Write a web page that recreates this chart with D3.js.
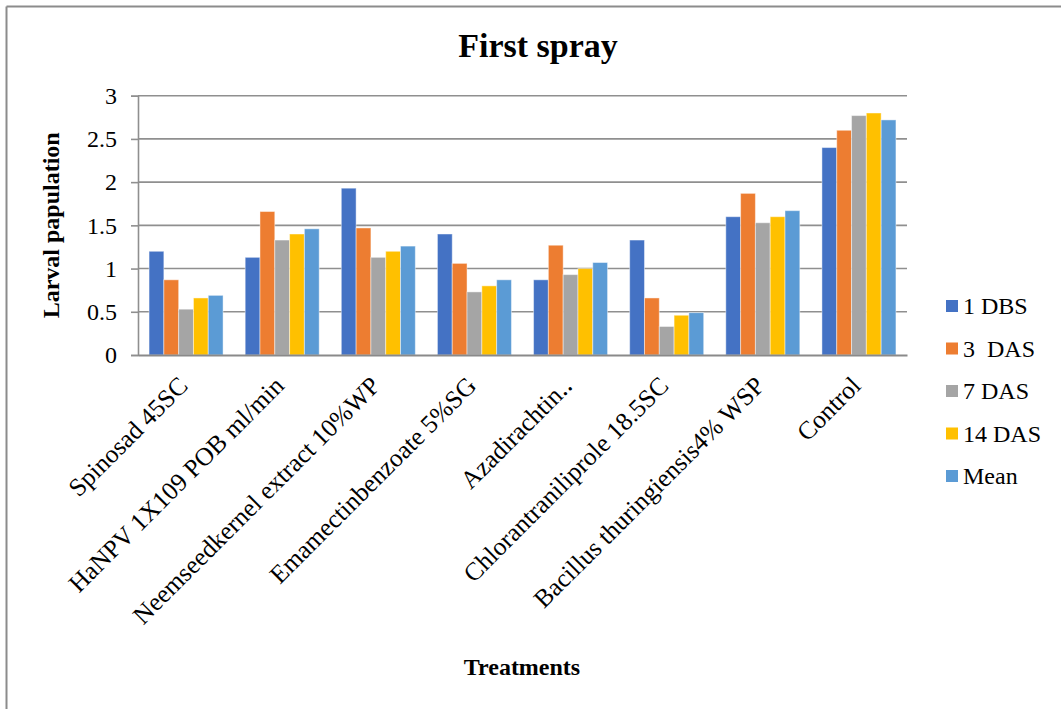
<!DOCTYPE html>
<html>
<head>
<meta charset="utf-8">
<script src="https://cdn.jsdelivr.net/npm/d3@7"></script>
<style>
  html, body { margin: 0; padding: 0; background: #fff; }
  svg { display: block; font-family: "Liberation Serif", "Times New Roman", serif; }
</style>
</head>
<body>
<svg id="chart" width="1061" height="709"></svg>
<script>
const categories = [
  "Spinosad 45SC",
  "HaNPV 1X109 POB ml/min",
  "Neemseedkernel extract 10%WP",
  "Emamectinbenzoate 5%SG",
  "Azadirachtin\u2025",
  "Chlorantraniliprole 18.5SC",
  "Bacillus thuringiensis4% WSP",
  "Control"
];
const seriesNames = ["1 DBS", "3  DAS", "7 DAS", "14 DAS", "Mean"];
const dbs1  = [1.20, 1.13, 1.93, 1.40, 0.87, 1.33, 1.60, 2.40];
const das3  = [0.87, 1.66, 1.47, 1.06, 1.27, 0.66, 1.87, 2.60];
const das7  = [0.53, 1.33, 1.13, 0.73, 0.93, 0.33, 1.53, 2.77];
const das14 = [0.66, 1.40, 1.20, 0.80, 1.00, 0.46, 1.60, 2.80];
const mean  = [0.69, 1.46, 1.26, 0.87, 1.07, 0.49, 1.67, 2.72];
const yTicks = [0, 0.5, 1, 1.5, 2, 2.5, 3];
const colors = ["#4472C4", "#ED7D31", "#A5A5A5", "#FFC000", "#5B9BD5"];

const seriesValues = [dbs1, das3, das7, das14, mean];

const svg = d3.select("#chart");
const plot = { left: 138, right: 907, top: 95.7, bottom: 355 };

// Frame
svg.append("line").attr("x1", 6.5).attr("x2", 1061).attr("y1", 6.5).attr("y2", 6.5)
  .attr("stroke", "#8c8c8c").attr("stroke-width", 2);
svg.append("line").attr("x1", 6.5).attr("x2", 6.5).attr("y1", 6.5).attr("y2", 709)
  .attr("stroke", "#8c8c8c").attr("stroke-width", 2);

const x0 = d3.scaleBand().domain(categories).range([plot.left, plot.right])
  .paddingInner(0.23).paddingOuter(0.115);
const x1 = d3.scaleBand().domain(seriesNames).range([0, x0.bandwidth()]);
const y = d3.scaleLinear().domain([0, 3]).range([plot.bottom, plot.top]);

// Gridlines
svg.append("g").selectAll("line").data(yTicks.filter(d => d > 0)).join("line")
  .attr("x1", plot.left).attr("x2", plot.right)
  .attr("y1", d => y(d)).attr("y2", d => y(d))
  .attr("stroke", "#8f8f8f").attr("stroke-width", 1.6);

// Y axis
const yAxis = d3.axisLeft(y).tickValues(yTicks).tickSize(7).tickPadding(14)
  .tickFormat(d => String(d));
const yg = svg.append("g").attr("transform", `translate(${plot.left},0)`).call(yAxis);
yg.select(".domain").attr("stroke", "#8f8f8f").attr("stroke-width", 1.6);
yg.selectAll(".tick line").attr("stroke", "#8f8f8f").attr("stroke-width", 1.6);
yg.selectAll(".tick text").attr("font-size", 24).attr("fill", "#000")
  .attr("font-family", "Liberation Serif, serif");

// Bars
const groups = svg.append("g").selectAll("g").data(categories).join("g")
  .attr("transform", d => `translate(${x0(d)},0)`);
groups.selectAll("rect")
  .data((c, i) => seriesNames.map((s, j) => ({ s, v: seriesValues[j][i], j })))
  .join("rect")
  .attr("x", d => x1(d.s))
  .attr("y", d => y(d.v))
  .attr("width", x1.bandwidth())
  .attr("height", d => y(0) - y(d.v))
  .attr("fill", d => colors[d.j])
  .attr("stroke", "rgba(255,255,255,0.45)")
  .attr("stroke-width", 1);

// X axis
const xAxis = d3.axisBottom(x0).tickSize(0).tickFormat("");
const xg = svg.append("g").attr("transform", `translate(0,${plot.bottom})`).call(xAxis);
xg.select(".domain").attr("stroke", "#8a8a8a").attr("stroke-width", 2.2);

// X labels rotated
svg.append("g").selectAll("text").data(categories).join("text")
  .attr("transform", d => `translate(${x0(d) + x0.bandwidth() / 2 - 3},${plot.bottom + 26}) rotate(-45)`)
  .attr("text-anchor", "end")
  .attr("dy", "0.35em")
  .attr("font-size", 25.5)
  .attr("fill", "#000")
  .text(d => d);

// Title
svg.append("text").attr("x", 538).attr("y", 57).attr("text-anchor", "middle")
  .attr("font-size", 34).attr("font-weight", "bold").text("First spray");

// Y axis title
svg.append("text")
  .attr("transform", `translate(59,${(plot.top + plot.bottom) / 2}) rotate(-90)`)
  .attr("text-anchor", "middle").attr("font-size", 24).attr("font-weight", "bold")
  .text("Larval papulation");

// X axis title
svg.append("text").attr("x", 522).attr("y", 675).attr("text-anchor", "middle")
  .attr("font-size", 24).attr("font-weight", "bold").text("Treatments");

// Legend
const legend = svg.append("g").selectAll("g").data(seriesNames).join("g")
  .attr("transform", (d, i) => `translate(946,${314 + i * 42.5})`);
legend.append("rect").attr("x", 0).attr("y", -14).attr("width", 12).attr("height", 12)
  .attr("fill", (d, i) => colors[i]);
legend.append("text").attr("x", 17).attr("y", 0).attr("font-size", 24)
  .attr("xml:space", "preserve").style("white-space", "pre").text(d => d);
</script>
</body>
</html>
